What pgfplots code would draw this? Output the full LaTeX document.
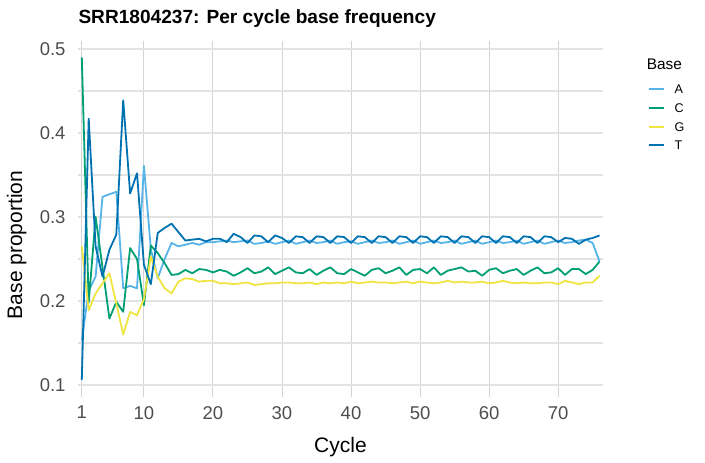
\documentclass[border=0pt]{standalone}
\usepackage{fontspec}
\setmainfont{Liberation Sans}
\usepackage{pgfplots}
\usepackage{pgfplotstable}
\pgfplotsset{compat=1.18}

\definecolor{baseA}{HTML}{56B4E9}
\definecolor{baseC}{HTML}{009E73}
\definecolor{baseG}{HTML}{F0E442}
\definecolor{baseT}{HTML}{0072B2}
\definecolor{ticktext}{HTML}{4D4D4D}
\definecolor{hgrid}{HTML}{E3E3E3}
\definecolor{vgrid}{HTML}{D4D4D4}

% per cycle base proportions
\pgfplotstableread{
cycle A C G T
1 0.153 0.490 0.265 0.106
2 0.212 0.198 0.189 0.417
3 0.229 0.300 0.209 0.265
4 0.324 0.240 0.221 0.229
5 0.327 0.179 0.233 0.261
6 0.330 0.199 0.197 0.279
7 0.215 0.187 0.160 0.439
8 0.218 0.263 0.187 0.328
9 0.215 0.250 0.183 0.352
10 0.361 0.195 0.202 0.243
11 0.262 0.266 0.253 0.220
12 0.227 0.257 0.229 0.281
13 0.250 0.245 0.215 0.287
14 0.269 0.231 0.209 0.292
15 0.265 0.232 0.223 0.282
16 0.267 0.237 0.227 0.272
17 0.269 0.233 0.226 0.273
18 0.267 0.238 0.223 0.274
19 0.270 0.237 0.224 0.271
20 0.270 0.234 0.224 0.274
21 0.271 0.237 0.221 0.274
22 0.272 0.235 0.221 0.270
23 0.270 0.230 0.220 0.280
24 0.271 0.234 0.221 0.276
25 0.272 0.239 0.222 0.269
26 0.268 0.233 0.219 0.278
27 0.269 0.235 0.220 0.277
28 0.271 0.240 0.221 0.270
29 0.268 0.232 0.221 0.278
30 0.270 0.236 0.222 0.275
31 0.272 0.240 0.222 0.269
32 0.268 0.234 0.221 0.277
33 0.270 0.233 0.221 0.276
34 0.272 0.238 0.222 0.269
35 0.269 0.231 0.220 0.277
36 0.270 0.236 0.222 0.276
37 0.272 0.240 0.221 0.269
38 0.268 0.233 0.222 0.277
39 0.270 0.232 0.221 0.276
40 0.271 0.238 0.223 0.269
41 0.268 0.234 0.221 0.277
42 0.270 0.230 0.222 0.276
43 0.272 0.237 0.223 0.269
44 0.269 0.239 0.222 0.277
45 0.270 0.233 0.222 0.276
46 0.272 0.236 0.221 0.269
47 0.268 0.240 0.222 0.277
48 0.270 0.231 0.223 0.276
49 0.272 0.237 0.221 0.269
50 0.268 0.238 0.223 0.277
51 0.270 0.233 0.222 0.276
52 0.272 0.240 0.221 0.269
53 0.269 0.231 0.222 0.277
54 0.270 0.236 0.224 0.276
55 0.272 0.238 0.222 0.269
56 0.268 0.240 0.223 0.277
57 0.270 0.235 0.222 0.276
58 0.272 0.236 0.222 0.269
59 0.268 0.230 0.223 0.277
60 0.270 0.237 0.221 0.276
61 0.272 0.239 0.222 0.269
62 0.269 0.233 0.224 0.277
63 0.270 0.236 0.222 0.276
64 0.272 0.238 0.221 0.269
65 0.268 0.231 0.222 0.277
66 0.270 0.236 0.221 0.276
67 0.272 0.240 0.221 0.269
68 0.268 0.233 0.222 0.277
69 0.270 0.234 0.222 0.276
70 0.272 0.239 0.220 0.270
71 0.269 0.231 0.224 0.275
72 0.270 0.238 0.222 0.274
73 0.272 0.238 0.220 0.268
74 0.273 0.232 0.222 0.273
75 0.269 0.237 0.222 0.275
76 0.247 0.247 0.230 0.278
}\basefreq

\begin{document}
\begin{tikzpicture}
  \useasboundingbox (0bp,0bp) rectangle (705bp,463bp);
  \begin{axis}[
    at={(78bp,66.3bp)},
    anchor=south west,
    scale only axis,
    width=525bp,
    height=356bp,
    xmin=0.45, xmax=76.5,
    ymin=0.086, ymax=0.5099,
    xtick={1,10,20,30,40,50,60,70},
    ytick={0.1,0.2,0.3,0.4,0.5},
    minor ytick={0.15,0.25,0.35,0.45},
    yticklabel style={xshift=-9bp},
    xticklabel style={yshift=-6bp},
    ticklabel style={font=\fontsize{18.5bp}{20bp}\selectfont, text=ticktext},
    /pgf/number format/assume math mode=true,
    axis line style={draw=none},
    major tick style={draw=none},
    minor tick style={draw=none},
    xmajorgrids, ymajorgrids, yminorgrids,
    major x grid style={color=vgrid, line width=1bp},
    major y grid style={color=hgrid, line width=1.5bp},
    minor y grid style={color=hgrid, line width=1.5bp},
    legend cell align=left,
    legend image code/.code={\draw[#1, line width=2bp] (0bp,0bp) -- (15bp,0bp);},
    legend style={
      at={(rel axis cs:1.0863,0.877)},
      anchor=north west,
      draw=none, fill=none,
      inner sep=0pt, outer sep=0pt,
      row sep=9.8bp, column sep=9.4bp,
      font=\fontsize{12.6bp}{13bp}\selectfont,
      nodes={inner sep=0pt, text height=9bp, text depth=0bp}
    },
    every axis plot/.append style={line width=1.8bp, line join=round}
  ]
    \addplot[baseA, no markers] table[x=cycle, y=A] {\basefreq};
    \addlegendentry{A}
    \addplot[baseC, no markers] table[x=cycle, y=C] {\basefreq};
    \addlegendentry{C}
    \addplot[baseG, no markers] table[x=cycle, y=G] {\basefreq};
    \addlegendentry{G}
    \addplot[baseT, no markers] table[x=cycle, y=T] {\basefreq};
    \addlegendentry{T}
  \end{axis}
  \node[anchor=base west, inner sep=0pt, font=\bfseries\fontsize{19.1bp}{21bp}\selectfont]
    at (78.3bp,439.5bp) {SRR1804237: Per cycle base frequency};
  \node[anchor=base west, inner sep=0pt, font=\fontsize{15.4bp}{17bp}\selectfont]
    at (646.7bp,393.7bp) {Base};
  \node[anchor=base, inner sep=0pt, font=\fontsize{21bp}{23bp}\selectfont]
    at (340.5bp,10.5bp) {Cycle};
  \node[anchor=base, rotate=90, inner sep=0pt, font=\fontsize{21bp}{23bp}\selectfont]
    at (22bp,218bp) {Base proportion};
\end{tikzpicture}
\end{document}
